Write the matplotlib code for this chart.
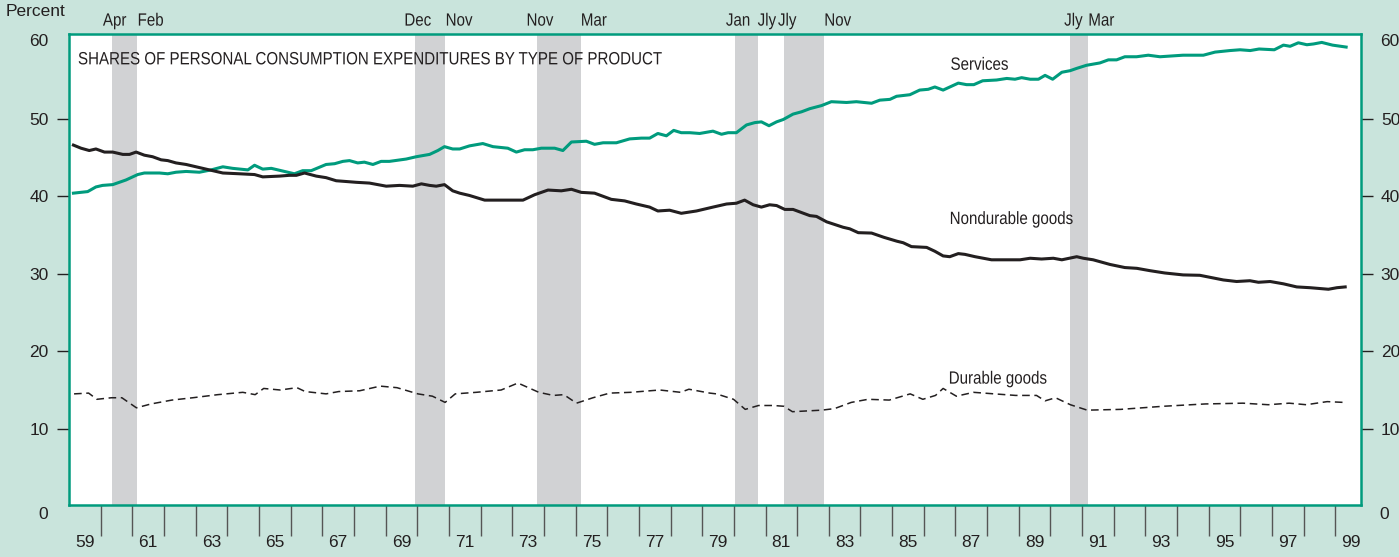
import matplotlib
matplotlib.use("Agg")
import numpy as np
import matplotlib.pyplot as plt
from matplotlib.patheffects import AbstractPathEffect
from matplotlib.transforms import Affine2D

# --- data (year, percent) ---
services_years = [1959.14, 1959.59, 1959.85, 1960.06, 1960.38, 1960.80, 1961.17, 1961.38, 1961.86, 1962.12,
                  1962.38, 1962.70, 1963.12, 1963.49, 1963.86, 1964.17, 1964.65, 1964.86, 1965.12, 1965.39,
                  1965.70, 1966.12, 1966.38, 1966.65, 1967.12, 1967.39, 1967.65, 1967.86, 1968.12, 1968.33,
                  1968.60, 1968.86, 1969.12, 1969.65, 1969.97, 1970.39, 1970.65, 1970.86, 1971.12, 1971.34,
                  1971.65, 1972.07, 1972.39, 1972.86, 1973.13, 1973.39, 1973.65, 1973.92, 1974.34, 1974.60,
                  1974.87, 1975.34, 1975.60, 1975.87, 1976.29, 1976.71, 1977.08, 1977.34, 1977.60, 1977.87,
                  1978.10, 1978.34, 1978.61, 1978.92, 1979.34, 1979.61, 1979.82, 1980.08, 1980.40, 1980.66,
                  1980.87, 1981.11, 1981.35, 1981.56, 1981.87, 1982.14, 1982.40, 1982.77, 1983.08, 1983.56,
                  1983.87, 1984.35, 1984.61, 1984.93, 1985.14, 1985.56, 1985.87, 1986.14, 1986.35, 1986.61,
                  1987.09, 1987.35, 1987.58, 1987.86, 1988.30, 1988.62, 1988.88, 1989.09, 1989.36, 1989.62,
                  1989.83, 1990.07, 1990.36, 1990.62, 1990.83, 1991.14, 1991.56, 1991.83, 1992.09, 1992.35,
                  1992.72, 1993.09, 1993.46, 1994.19, 1994.83, 1995.20, 1995.67, 1995.99, 1996.31, 1996.59,
                  1997.07, 1997.36, 1997.57, 1997.83, 1998.10, 1998.31, 1998.57, 1998.91, 1999.34]
services = [40.4, 40.6, 41.2, 41.4, 41.5, 42.1, 42.8, 43.0, 43.0, 42.9,
            43.1, 43.2, 43.1, 43.4, 43.8, 43.6, 43.4, 44.0, 43.5, 43.6,
            43.3, 42.9, 43.3, 43.3, 44.1, 44.2, 44.5, 44.6, 44.3, 44.4,
            44.1, 44.5, 44.5, 44.8, 45.1, 45.4, 45.9, 46.4, 46.1, 46.1,
            46.5, 46.8, 46.4, 46.2, 45.7, 46.0, 46.0, 46.2, 46.2, 45.9,
            47.0, 47.1, 46.7, 46.9, 46.9, 47.4, 47.5, 47.5, 48.1, 47.8,
            48.5, 48.2, 48.2, 48.1, 48.4, 48.0, 48.2, 48.2, 49.2, 49.5,
            49.6, 49.1, 49.6, 49.9, 50.6, 50.9, 51.3, 51.7, 52.2, 52.1,
            52.2, 52.0, 52.4, 52.5, 52.9, 53.1, 53.7, 53.8, 54.1, 53.7,
            54.6, 54.4, 54.4, 54.9, 55.0, 55.2, 55.1, 55.3, 55.1, 55.1,
            55.6, 55.1, 56.0, 56.2, 56.5, 56.9, 57.2, 57.6, 57.6, 58.0,
            58.0, 58.2, 58.0, 58.2, 58.2, 58.6, 58.8, 58.9, 58.8, 59.0,
            58.9, 59.5, 59.35, 59.8, 59.55, 59.65, 59.85, 59.5, 59.25]

nondurable_years = [1959.14, 1959.38, 1959.64, 1959.85, 1960.12, 1960.38, 1960.70, 1960.91, 1961.12, 1961.38,
                    1961.64, 1961.91, 1962.12, 1962.38, 1962.70, 1963.12, 1963.54, 1963.86, 1964.38, 1964.86,
                    1965.12, 1965.65, 1965.96, 1966.18, 1966.44, 1966.81, 1967.12, 1967.44, 1967.76, 1968.07,
                    1968.49, 1969.02, 1969.44, 1969.86, 1970.13, 1970.39, 1970.60, 1970.86, 1971.12, 1971.34,
                    1971.65, 1972.13, 1972.60, 1973.02, 1973.34, 1973.71, 1974.13, 1974.55, 1974.87, 1975.18,
                    1975.60, 1976.13, 1976.55, 1976.92, 1977.34, 1977.60, 1977.97, 1978.34, 1978.82, 1979.34,
                    1979.77, 1980.08, 1980.34, 1980.61, 1980.87, 1981.13, 1981.35, 1981.61, 1981.87, 1982.40,
                    1982.61, 1982.93, 1983.45, 1983.66, 1983.93, 1984.35, 1984.74, 1985.15, 1985.35, 1985.61,
                    1986.09, 1986.35, 1986.61, 1986.82, 1987.09, 1987.30, 1987.62, 1987.88, 1988.14, 1988.56,
                    1989.04, 1989.36, 1989.72, 1990.09, 1990.36, 1990.83, 1991.04, 1991.35, 1991.88, 1992.35,
                    1992.73, 1993.14, 1993.61, 1994.19, 1994.72, 1995.09, 1995.46, 1995.88, 1996.30, 1996.57,
                    1996.94, 1997.36, 1997.78, 1998.20, 1998.78, 1999.05, 1999.31]
nondurable = [46.6, 46.2, 45.9, 46.1, 45.7, 45.7, 45.4, 45.4, 45.7, 45.3,
              45.1, 44.7, 44.6, 44.3, 44.1, 43.7, 43.3, 43.0, 42.9, 42.8,
              42.5, 42.6, 42.7, 42.7, 43.0, 42.6, 42.4, 42.0, 41.9, 41.8,
              41.7, 41.3, 41.4, 41.3, 41.6, 41.4, 41.3, 41.5, 40.7, 40.4,
              40.1, 39.5, 39.5, 39.5, 39.5, 40.2, 40.8, 40.7, 40.9, 40.5,
              40.4, 39.6, 39.4, 39.0, 38.6, 38.1, 38.2, 37.8, 38.1, 38.6,
              39.0, 39.1, 39.5, 38.9, 38.6, 38.9, 38.8, 38.3, 38.3, 37.5,
              37.4, 36.7, 36.0, 35.8, 35.3, 35.25, 34.7, 34.2, 34.0, 33.5,
              33.4, 32.9, 32.3, 32.2, 32.6, 32.5, 32.2, 32.0, 31.8, 31.8,
              31.8, 32.0, 31.9, 32.0, 31.8, 32.2, 32.0, 31.8, 31.2, 30.8,
              30.7, 30.4, 30.1, 29.85, 29.8, 29.5, 29.2, 29.0, 29.1, 28.9,
              29.0, 28.7, 28.3, 28.2, 28.0, 28.2, 28.3]

durable_years = [1959.16, 1959.62, 1959.88, 1960.34, 1960.67, 1961.13, 1961.59, 1962.25, 1962.91, 1963.70,
                 1964.49, 1964.88, 1965.15, 1965.67, 1966.20, 1966.46, 1967.12, 1967.52, 1968.18, 1968.83,
                 1969.36, 1970.02, 1970.48, 1970.88, 1971.20, 1971.86, 1972.65, 1973.18, 1973.84, 1974.30,
                 1974.63, 1975.03, 1975.55, 1976.08, 1976.74, 1977.66, 1978.32, 1978.58, 1979.24, 1979.45,
                 1979.99, 1980.36, 1980.78, 1981.25, 1981.58, 1981.85, 1982.78, 1983.18, 1983.71, 1984.24,
                 1984.91, 1985.57, 1985.97, 1986.37, 1986.61, 1987.03, 1987.57, 1988.23, 1988.90, 1989.56,
                 1989.83, 1990.16, 1990.63, 1991.16, 1992.22, 1993.56, 1994.89, 1996.08, 1996.88, 1997.54,
                 1998.08, 1998.74, 1999.27]
durable = [14.5, 14.6, 13.8, 14.0, 14.0, 12.7, 13.2, 13.7, 14.0, 14.4,
           14.7, 14.4, 15.2, 15.0, 15.3, 14.8, 14.5, 14.8, 14.9, 15.5,
           15.3, 14.5, 14.2, 13.4, 14.5, 14.7, 15.0, 15.9, 14.7, 14.3,
           14.4, 13.3, 14.0, 14.6, 14.7, 15.0, 14.7, 15.1, 14.6, 14.5,
           13.8, 12.5, 13.0, 13.0, 12.9, 12.2, 12.4, 12.6, 13.4, 13.8,
           13.7, 14.5, 13.8, 14.3, 15.2, 14.2, 14.7, 14.5, 14.3, 14.3,
           13.6, 14.0, 13.1, 12.4, 12.5, 12.9, 13.2, 13.3, 13.1, 13.3,
           13.1, 13.5, 13.4]

# recession shading, as drawn (fractional years) with their month labels
recession_starts = [1960.35, 1969.92, 1973.78, 1980.04, 1981.59, 1990.63]
recession_ends = [1961.16, 1970.89, 1975.16, 1980.75, 1982.85, 1991.19]
start_labels = ["Apr", "Dec", "Nov", "Jan", "Jly", "Jly"]
end_labels = ["Feb", "Nov", "Mar", "Jly", "Nov", "Mar"]

year_labels = [f"{y % 100:02d}" for y in range(1959, 2000, 2)]


class Squeeze(AbstractPathEffect):
    """Condense text horizontally (the original uses a narrow face)."""
    def __init__(self, sx=0.85, anchor="left"):
        super().__init__()
        self.sx = sx
        self.anchor = anchor

    def draw_path(self, renderer, gc, tpath, affine, rgbFace=None):
        ext = tpath.get_extents(affine)
        x0 = ext.x0 if self.anchor == "left" else (ext.x0 + ext.x1) / 2
        affine = affine + Affine2D().translate(-x0, 0).scale(self.sx, 1).translate(x0, 0)
        renderer.draw_path(gc, tpath, affine, rgbFace)


# --- style ---
plt.rcParams["font.family"] = "Liberation Sans"

BG = "#c9e4dc"
TEAL = "#009b7d"
INK = "#231f20"
BAND = "#d1d2d4"
NARROW_SIZE = 12.8
left_sq = [Squeeze(0.85, "left")]
mid_sq = [Squeeze(0.85, "center")]

W, H = 1399, 557
fig = plt.figure(figsize=(W / 100, H / 100), dpi=100, facecolor=BG)
L, R, T, B = 69, 1360.7, 33.5, 504.7
ax = fig.add_axes([L / W, (H - B) / H, (R - L) / W, (B - T) / H])
ax.set_facecolor("white")
ax.set_xlim(1959.0, 1999.8)
ax.set_ylim(0.2, 61.0)

for x0, x1, sl, el in zip(recession_starts, recession_ends, start_labels, end_labels):
    ax.axvspan(x0, x1, color=BAND, lw=0, zorder=0)
    ax.annotate(sl, xy=(x0, 61.5), xytext=(3, 0), textcoords="offset pixels",
                ha="center", va="bottom", fontsize=NARROW_SIZE, color=INK,
                annotation_clip=False, path_effects=mid_sq)
    ax.text(x1, 61.5, el, ha="left", va="bottom", fontsize=NARROW_SIZE, color=INK,
            clip_on=False, path_effects=left_sq)

ax.plot(services_years, services, color=TEAL, lw=2.2, zorder=3, solid_joinstyle="round")
ax.plot(nondurable_years, nondurable, color=INK, lw=2.2, zorder=3, solid_joinstyle="round")
ax.plot(durable_years, durable, color=INK, lw=1.1, dashes=(5, 3), zorder=3)

ax.text(1959.28, 57.6, "SHARES OF PERSONAL CONSUMPTION EXPENDITURES BY TYPE OF PRODUCT",
        fontsize=NARROW_SIZE, color=INK, va="center", ha="left", path_effects=left_sq)
ax.text(1986.84, 56.9, "Services", fontsize=NARROW_SIZE, color=INK, va="center",
        path_effects=left_sq)
ax.text(1986.81, 37.0, "Nondurable goods", fontsize=NARROW_SIZE, color=INK, va="center",
        path_effects=left_sq)
ax.text(1986.78, 16.4, "Durable goods", fontsize=NARROW_SIZE, color=INK, va="center",
        path_effects=left_sq)

for s in ax.spines.values():
    s.set_color(TEAL)
    s.set_linewidth(1.8)

# y axis on both sides
ax.set_yticks([10, 20, 30, 40, 50])
ax.tick_params(axis="y", left=True, right=True, labelleft=True, labelright=True,
               length=8.5, width=1.0, pad=6, color=INK, labelsize=12.5, labelcolor=INK)
for y, lab in [(60, "60"), (-1.1, "0")]:
    ax.annotate(lab, xy=(0, y), xycoords=("axes fraction", "data"), xytext=(-21, 0),
                textcoords="offset pixels", ha="right", va="center", fontsize=12.5,
                color=INK, annotation_clip=False)
    ax.annotate(lab, xy=(1, y), xycoords=("axes fraction", "data"), xytext=(19, 0),
                textcoords="offset pixels", ha="left", va="center", fontsize=12.5,
                color=INK, annotation_clip=False)

# x axis: year boundaries as long ticks, odd-year labels centred in each year
ax.set_xticks(np.arange(1960, 2000))
ax.set_xticklabels([])
ax.set_xticks(np.arange(1959.5, 2000, 2), minor=True)
ax.set_xticklabels(year_labels, minor=True)
ax.tick_params(axis="x", which="major", direction="out", length=22.5, width=1.0, color="#555555")
ax.tick_params(axis="x", which="minor", length=0, pad=21.5, labelsize=12.5, labelcolor=INK)

fig.text(6 / W, 1 - 12 / H, "Percent", fontsize=12.5, color=INK, ha="left", va="center")

fig.savefig("out.png", dpi=100, facecolor=BG)
